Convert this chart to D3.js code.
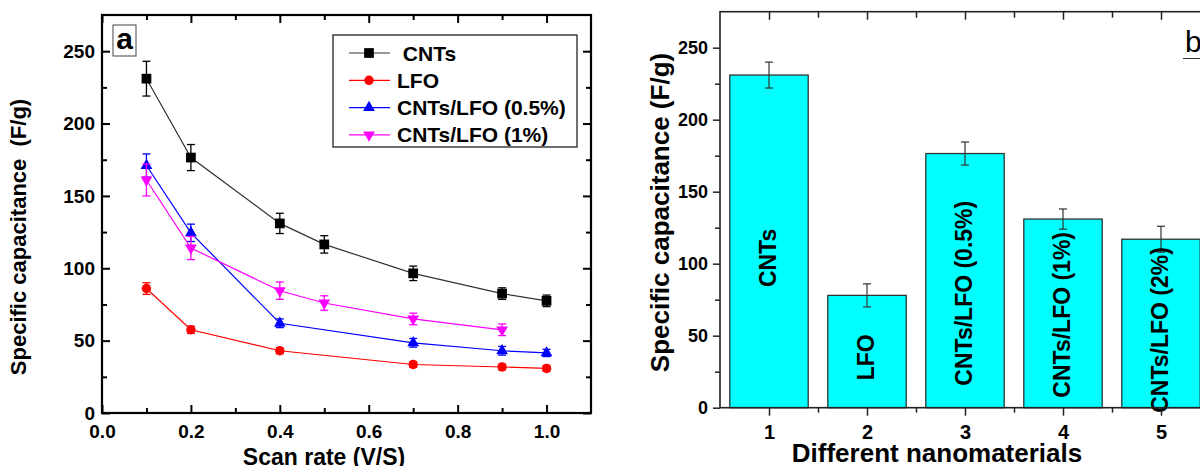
<!DOCTYPE html>
<html>
<head>
<meta charset="utf-8">
<script src="https://cdn.jsdelivr.net/npm/d3@7"></script>
<style>
  body { margin: 0; background: #fff; }
  text { font-family: Arial, "Liberation Sans", sans-serif; font-weight: bold; fill: #000; }
</style>
</head>
<body>
<script>
// panel a: scan rate vs specific capacitance
var cntsX = [0.1, 0.2, 0.4, 0.5, 0.7, 0.9, 1.0];
var cntsY = [231, 176.5, 131, 116.5, 96.5, 82.5, 77.5];
var cntsErr = [12, 9, 7, 6, 5, 4, 4];

var lfoX = [0.1, 0.2, 0.4, 0.7, 0.9, 1.0];
var lfoY = [86, 57.5, 43, 33.5, 31.8, 30.8];
var lfoErr = [4, 2.5, 2, 2, 2, 2];

var halfX = [0.1, 0.2, 0.4, 0.7, 0.9, 1.0];
var halfY = [171, 124.5, 62, 48.5, 43, 41.5];
var halfErr = [8, 6, 3, 3, 3, 2.5];

var oneX = [0.1, 0.2, 0.4, 0.5, 0.7, 0.9];
var oneY = [161, 114, 84.5, 76, 65, 57.5];
var oneErr = [11, 8, 6, 5, 4, 4];

var seriesNames = [" CNTs", "LFO", "CNTs/LFO (0.5%)", "CNTs/LFO (1%)"];
var xTicksA = [0, 0.2, 0.4, 0.6, 0.8, 1.0];
var yTicks = [0, 50, 100, 150, 200, 250];

// panel b: bars
var barCats = [1, 2, 3, 4, 5];
var barVals = [231, 78, 176.5, 131, 117];
var barErr = [9, 8, 8, 7, 9];
var barNames = ["CNTs", "LFO", "CNTs/LFO (0.5%)", "CNTs/LFO (1%)", "CNTs/LFO (2%)"];

var svg = d3.select("body").append("svg")
    .attr("width", 1200)
    .attr("height", 466);

svg.append("rect").attr("width", 1200).attr("height", 466).attr("fill", "#fff");

// ---------- panel a ----------
var xA = d3.scaleLinear().domain([0, 1.1]).range([102, 591]);
var yA = d3.scaleLinear().domain([0, 275]).range([413, 15]);

var gA = svg.append("g");

function noDomain(g) { g.select(".domain").remove(); }

gA.append("g")
    .attr("transform", "translate(0," + yA(0) + ")")
    .call(d3.axisBottom(xA).tickValues(xTicksA).tickFormat(d3.format(".1f"))
        .tickSizeInner(-8).tickSizeOuter(0).tickPadding(12))
    .call(noDomain)
    .call(function(g) { g.selectAll("text").style("font-size", "19px"); });

gA.append("g")
    .attr("transform", "translate(0," + yA(0) + ")")
    .call(d3.axisBottom(xA).tickValues([0.1, 0.3, 0.5, 0.7, 0.9]).tickFormat("")
        .tickSizeInner(-5).tickSizeOuter(0))
    .call(noDomain);

gA.append("g")
    .attr("transform", "translate(0," + yA(275) + ")")
    .call(d3.axisTop(xA).tickValues(xTicksA).tickFormat("").tickSizeInner(-8).tickSizeOuter(0))
    .call(noDomain);

gA.append("g")
    .attr("transform", "translate(0," + yA(275) + ")")
    .call(d3.axisTop(xA).tickValues([0.1, 0.3, 0.5, 0.7, 0.9]).tickFormat("").tickSizeInner(-5).tickSizeOuter(0))
    .call(noDomain);

gA.append("g")
    .attr("transform", "translate(" + xA(0) + ",0)")
    .call(d3.axisLeft(yA).tickValues(yTicks).tickSizeInner(-8).tickSizeOuter(0).tickPadding(7))
    .call(noDomain)
    .call(function(g) { g.selectAll("text").style("font-size", "19px"); });

gA.append("g")
    .attr("transform", "translate(" + xA(0) + ",0)")
    .call(d3.axisLeft(yA).tickValues([25, 75, 125, 175, 225]).tickFormat("").tickSizeInner(-5).tickSizeOuter(0))
    .call(noDomain);

gA.append("g")
    .attr("transform", "translate(" + xA(1.1) + ",0)")
    .call(d3.axisRight(yA).tickValues(yTicks).tickFormat("").tickSizeInner(-8).tickSizeOuter(0))
    .call(noDomain);

gA.append("g")
    .attr("transform", "translate(" + xA(1.1) + ",0)")
    .call(d3.axisRight(yA).tickValues([25, 75, 125, 175, 225]).tickFormat("").tickSizeInner(-5).tickSizeOuter(0))
    .call(noDomain);

gA.selectAll(".tick line").attr("stroke", "#000").attr("stroke-width", 2);

gA.append("rect")
    .attr("x", xA(0)).attr("y", yA(275))
    .attr("width", xA(1.1) - xA(0)).attr("height", yA(0) - yA(275))
    .attr("fill", "none").attr("stroke", "#000").attr("stroke-width", 2.2);

var series = [
  {name: seriesNames[0], x: cntsX, y: cntsY, e: cntsErr, color: "#000", line: "#333", sym: d3.symbolSquare, size: 95, rot: 0},
  {name: seriesNames[1], x: lfoX, y: lfoY, e: lfoErr, color: "#ff0000", line: "#ff0000", sym: d3.symbolCircle, size: 70, rot: 0},
  {name: seriesNames[2], x: halfX, y: halfY, e: halfErr, color: "#0000ff", line: "#0000ff", sym: d3.symbolTriangle, size: 60, rot: 0},
  {name: seriesNames[3], x: oneX, y: oneY, e: oneErr, color: "#ff00ff", line: "#ff00ff", sym: d3.symbolTriangle, size: 60, rot: 180}
];

var line = d3.line()
    .x(function(d) { return xA(d[0]); })
    .y(function(d) { return yA(d[1]); });

series.forEach(function(s) {
  var pts = s.x.map(function(x, i) { return [x, s.y[i], s.e[i]]; });
  var g = gA.append("g");

  g.append("path")
      .datum(pts)
      .attr("d", line)
      .attr("fill", "none")
      .attr("stroke", s.line)
      .attr("stroke-width", 1.2);

  var eb = g.selectAll("g.err").data(pts).enter().append("g").attr("class", "err")
      .attr("stroke", s.color).attr("stroke-width", 1.3);
  eb.append("line")
      .attr("x1", function(d) { return xA(d[0]); })
      .attr("x2", function(d) { return xA(d[0]); })
      .attr("y1", function(d) { return yA(d[1] + d[2]); })
      .attr("y2", function(d) { return yA(d[1] - d[2]); });
  [1, -1].forEach(function(k) {
    eb.append("line")
        .attr("x1", function(d) { return xA(d[0]) - 4; })
        .attr("x2", function(d) { return xA(d[0]) + 4; })
        .attr("y1", function(d) { return yA(d[1] + k * d[2]); })
        .attr("y2", function(d) { return yA(d[1] + k * d[2]); });
  });

  g.selectAll("path.mk").data(pts).enter().append("path")
      .attr("class", "mk")
      .attr("d", d3.symbol().type(s.sym).size(s.size))
      .attr("transform", function(d) {
        return "translate(" + xA(d[0]) + "," + yA(d[1]) + ") rotate(" + s.rot + ")";
      })
      .attr("fill", s.color);
});

// legend
var leg = gA.append("g");
leg.append("rect")
    .attr("x", 333).attr("y", 35).attr("width", 244).attr("height", 112)
    .attr("fill", "#fff").attr("stroke", "#222").attr("stroke-width", 1.3);

series.forEach(function(s, i) {
  var ly = 53 + i * 27.3;
  leg.append("line")
      .attr("x1", 349).attr("x2", 390).attr("y1", ly).attr("y2", ly)
      .attr("stroke", s.line).attr("stroke-width", 1.2);
  leg.append("path")
      .attr("d", d3.symbol().type(s.sym).size(s.size))
      .attr("transform", "translate(369," + ly + ") rotate(" + s.rot + ")")
      .attr("fill", s.color);
  leg.append("text")
      .attr("x", 397).attr("y", ly).attr("dy", "0.36em")
      .style("font-size", "21px")
      .style("white-space", "pre")
      .text(s.name);
});

// "a" tag
gA.append("rect")
    .attr("x", 113).attr("y", 25).attr("width", 23).attr("height", 31)
    .attr("fill", "#fff").attr("stroke", "#444").attr("stroke-width", 1);
gA.append("text")
    .attr("x", 124.5).attr("y", 49).attr("text-anchor", "middle")
    .style("font-size", "30px")
    .text("a");

gA.append("text")
    .attr("x", 324).attr("y", 465).attr("text-anchor", "middle")
    .style("font-size", "23px")
    .text("Scan rate (V/S)");

gA.append("text")
    .attr("transform", "translate(26,237) rotate(-90)")
    .attr("text-anchor", "middle")
    .style("font-size", "22px")
    .style("white-space", "pre")
    .text("Specific capacitance  (F/g)");

// ---------- panel b ----------
var xB = d3.scaleLinear().domain([0.5, 5.5]).range([720, 1210]);
var yB = d3.scaleLinear().domain([0, 275]).range([407.7, 11.7]);
var gB = svg.append("g");

var barW = xB(0.8) - xB(0);

gB.selectAll("rect.bar").data(barVals).enter().append("rect")
    .attr("class", "bar")
    .attr("x", function(d, i) { return xB(barCats[i]) - barW / 2; })
    .attr("width", barW)
    .attr("y", function(d) { return yB(d); })
    .attr("height", function(d) { return yB(0) - yB(d); })
    .attr("fill", "#00ffff")
    .attr("stroke", "#333")
    .attr("stroke-width", 1.3);

var ebB = gB.selectAll("g.err").data(barVals).enter().append("g")
    .attr("stroke", "#333").attr("stroke-width", 1.2);
ebB.append("line")
    .attr("x1", function(d, i) { return xB(barCats[i]); })
    .attr("x2", function(d, i) { return xB(barCats[i]); })
    .attr("y1", function(d, i) { return yB(d + barErr[i]); })
    .attr("y2", function(d, i) { return yB(d - barErr[i]); });
[1, -1].forEach(function(k) {
  ebB.append("line")
      .attr("x1", function(d, i) { return xB(barCats[i]) - 4; })
      .attr("x2", function(d, i) { return xB(barCats[i]) + 4; })
      .attr("y1", function(d, i) { return yB(d + k * barErr[i]); })
      .attr("y2", function(d, i) { return yB(d + k * barErr[i]); });
});

// rotated names inside bars (mid point in data units)
var labelMid = [104, 35, 79.5, 64.5, 54];
gB.selectAll("text.bl").data(barNames).enter().append("text")
    .attr("class", "bl")
    .attr("text-anchor", "middle")
    .attr("transform", function(d, i) {
      return "translate(" + (xB(barCats[i]) + 7) + "," + yB(labelMid[i]) + ") rotate(-90)";
    })
    .style("font-size", "23px")
    .text(function(d) { return d; });

gB.append("g")
    .attr("transform", "translate(0," + yB(0) + ")")
    .call(d3.axisBottom(xB).tickValues(barCats).tickFormat(d3.format("d"))
        .tickSizeInner(8).tickSizeOuter(0).tickPadding(9))
    .call(noDomain)
    .call(function(g) { g.selectAll("text").style("font-size", "20px"); });

gB.append("g")
    .attr("transform", "translate(0," + yB(0) + ")")
    .call(d3.axisBottom(xB).tickValues([1.5, 2.5, 3.5, 4.5]).tickFormat("").tickSizeInner(5).tickSizeOuter(0))
    .call(noDomain);

gB.append("g")
    .attr("transform", "translate(0," + yB(275) + ")")
    .call(d3.axisTop(xB).tickValues(barCats).tickFormat("").tickSizeInner(-8).tickSizeOuter(0))
    .call(noDomain);

gB.append("g")
    .attr("transform", "translate(0," + yB(275) + ")")
    .call(d3.axisTop(xB).tickValues([1.5, 2.5, 3.5, 4.5]).tickFormat("").tickSizeInner(-6).tickSizeOuter(0))
    .call(noDomain);

gB.append("g")
    .attr("transform", "translate(" + xB(0.5) + ",0)")
    .call(d3.axisLeft(yB).tickValues(yTicks).tickSizeInner(7).tickSizeOuter(0).tickPadding(5))
    .call(noDomain)
    .call(function(g) { g.selectAll("text").style("font-size", "18px"); });

gB.append("g")
    .attr("transform", "translate(" + xB(0.5) + ",0)")
    .call(d3.axisLeft(yB).tickValues([25, 75, 125, 175, 225]).tickFormat("").tickSizeInner(5).tickSizeOuter(0))
    .call(noDomain);

gB.selectAll(".tick line").attr("stroke", "#222").attr("stroke-width", 1.5);

gB.append("rect")
    .attr("x", xB(0.5)).attr("y", yB(275))
    .attr("width", xB(5.5) - xB(0.5)).attr("height", yB(0) - yB(275))
    .attr("fill", "none").attr("stroke", "#222").attr("stroke-width", 1.6);

// "b" tag, cut by the right edge
gB.append("text")
    .attr("x", 1185).attr("y", 52)
    .style("font-size", "30px").style("font-weight", "normal")
    .text("b");
gB.append("line")
    .attr("x1", 1183).attr("x2", 1200).attr("y1", 58.5).attr("y2", 58.5)
    .attr("stroke", "#333").attr("stroke-width", 1);

gB.append("text")
    .attr("x", 937).attr("y", 462).attr("text-anchor", "middle")
    .style("font-size", "26px")
    .text("Different nanomaterials");

gB.append("text")
    .attr("transform", "translate(669,212.5) rotate(-90)")
    .attr("text-anchor", "middle")
    .style("font-size", "26px")
    .text("Specific capacitance (F/g)");
</script>
</body>
</html>
